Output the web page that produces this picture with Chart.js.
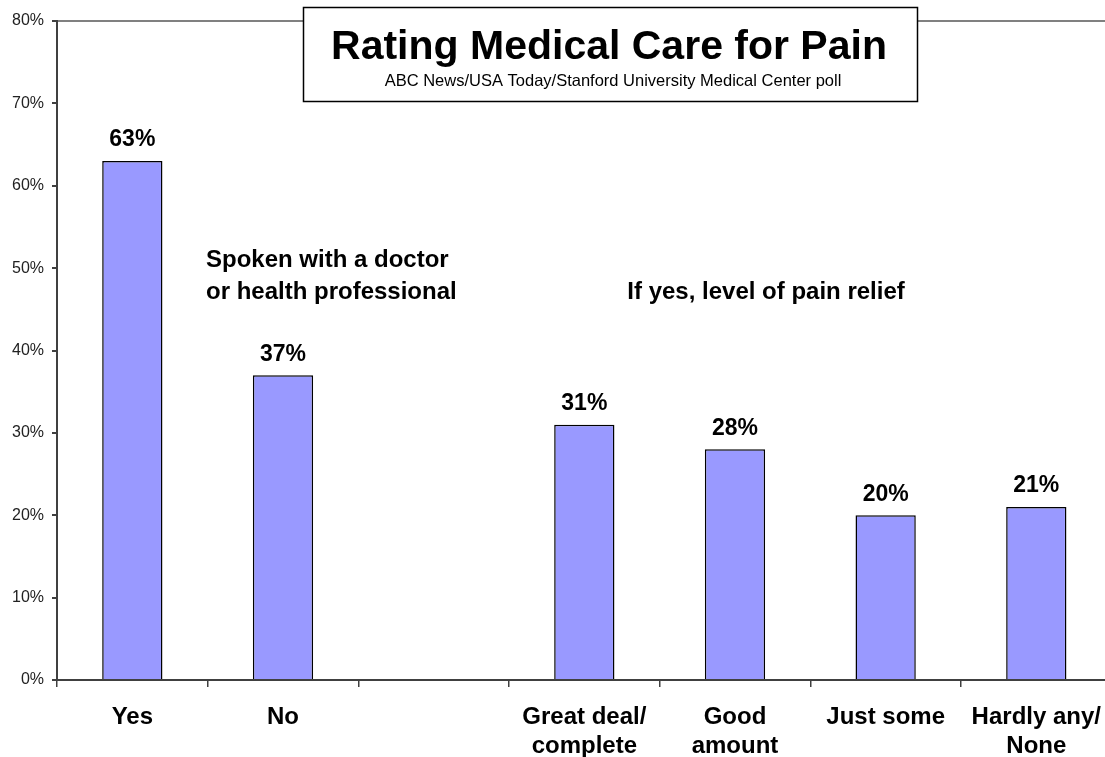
<!DOCTYPE html>
<html>
<head>
<meta charset="utf-8">
<script src="https://cdn.jsdelivr.net/npm/chart.js@4.4.1/dist/chart.umd.min.js"></script>
<style>
  html, body { margin: 0; padding: 0; background: #fff; overflow: hidden; }
  #wrap { width: 1117px; height: 757px; }
</style>
</head>
<body>
<div id="wrap"><canvas id="myChart"></canvas></div>
<script>
// categories (empty slot separates the two question groups)
var categories = [['Yes'], ['No'], [''], ['Great deal/', 'complete'], ['Good', 'amount'], ['Just some'], ['Hardly any/', 'None']];
var percents = [63, 37, null, 31, 28, 20, 21];
var yTicks = [0, 10, 20, 30, 40, 50, 60, 70, 80];

var titleText = 'Rating Medical Care for Pain';
var subtitleText = 'ABC News/USA Today/Stanford University Medical Center poll';
var noteLeft = ['Spoken with a doctor', 'or health professional'];
var noteRight = 'If yes, level of pain relief';

var FONT = 'Arial, "Liberation Sans", sans-serif';

var extras = {
    id: 'extras',
    afterDatasetsDraw: function(chart) {
        var c = chart.ctx;
        var meta = chart.getDatasetMeta(0);
        c.save();
        // value labels above bars
        c.fillStyle = '#000';
        c.font = 'bold 23px ' + FONT;
        c.textAlign = 'center';
        c.textBaseline = 'middle';
        meta.data.forEach(function(bar, i) {
            if (percents[i] == null) return;
            c.fillText(percents[i] + '%', bar.x, bar.y - 21);
        });

        // group notes
        var x = chart.scales.x, y = chart.scales.y;
        c.font = 'bold 24px ' + FONT;
        c.textAlign = 'left';
        c.fillText(noteLeft[0], x.getPixelForValue(1) - 77, y.getPixelForValue(50.9));
        c.fillText(noteLeft[1], x.getPixelForValue(1) - 77, y.getPixelForValue(47.1));
        c.fillText(noteRight, x.getPixelForValue(3) + 43, y.getPixelForValue(47.1));

        // title box
        c.fillStyle = '#fff';
        c.fillRect(303, 7, 615, 95);
        c.strokeStyle = '#000';
        c.lineWidth = 1.5;
        c.strokeRect(303.5, 7.5, 614, 94);
        c.fillStyle = '#000';
        c.textAlign = 'center';
        c.font = 'bold 41px ' + FONT;
        c.fillText(titleText, 609, 48);
        c.font = '16.5px ' + FONT;
        c.fillText(subtitleText, 613, 81);
        c.restore();
    }
};

var ctx = document.getElementById('myChart').getContext('2d');
var chart = new Chart(ctx, {
    type: 'bar',
    data: {
        labels: categories,
        datasets: [{
            data: percents,
            backgroundColor: '#9999FF',
            borderColor: '#000000',
            borderWidth: 1.5,
            categoryPercentage: 1,
            barPercentage: 0.4
        }]
    },
    options: {
        responsive: true,
        maintainAspectRatio: false,
        animation: false,
        layout: { padding: { top: 21, right: 0, left: 0, bottom: 0 } },
        plugins: {
            legend: { display: false },
            tooltip: { enabled: false }
        },
        scales: {
            x: {
                offset: true,
                grid: {
                    offset: true,
                    drawOnChartArea: false,
                    tickLength: 7,
                    tickColor: '#404040',
                    lineWidth: 1.5
                },
                border: { color: '#404040', width: 2 },
                ticks: {
                    color: '#000',
                    font: { family: FONT, size: 24, weight: 'bold', lineHeight: 1.2 },
                    padding: 16,
                    maxRotation: 0,
                    autoSkip: false
                },
                afterFit: function(s) { s.height = 77; }
            },
            y: {
                min: 0,
                max: 80,
                afterBuildTicks: function(s) {
                    s.ticks = yTicks.map(function(v) { return { value: v }; });
                },
                grid: {
                    color: function(c) { return c.tick && c.tick.value === 80 ? '#808080' : 'rgba(0,0,0,0)'; },
                    lineWidth: 2,
                    tickLength: 5,
                    tickColor: '#404040'
                },
                border: { color: '#404040', width: 2 },
                ticks: {
                    color: '#222',
                    font: { family: FONT, size: 16 },
                    padding: 8,
                    callback: function(v) { return v + '%'; }
                },
                afterFit: function(s) { s.width = 57; }
            }
        }
    },
    plugins: [extras]
});
</script>
</body>
</html>
